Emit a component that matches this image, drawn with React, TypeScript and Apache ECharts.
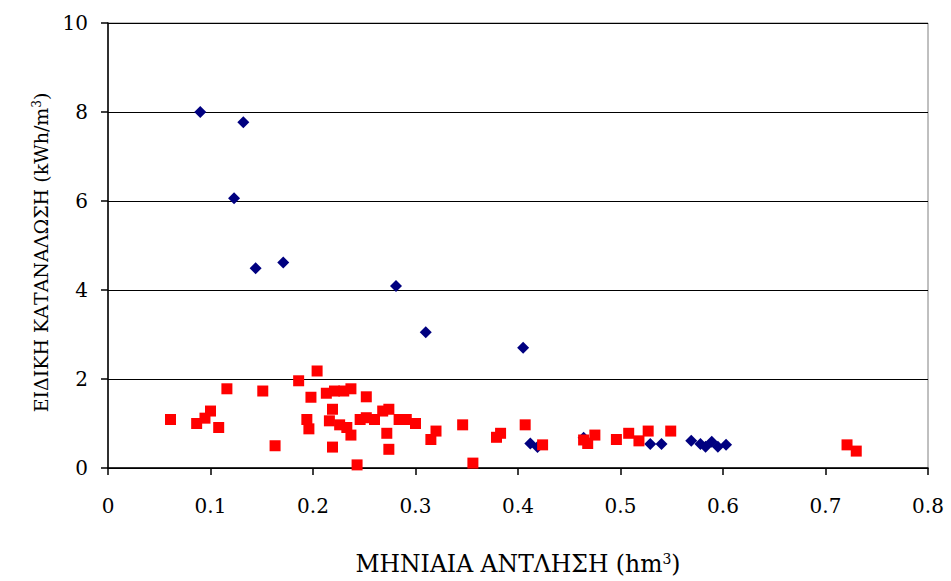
import React, { useEffect, useRef } from "react";
import * as echarts from "echarts";

const xTickLabels = ["0", "0.1", "0.2", "0.3", "0.4", "0.5", "0.6", "0.7", "0.8"];
const yTickLabels = ["0", "2", "4", "6", "8", "10"];

const blueX = [0.090, 0.132, 0.123, 0.144, 0.171, 0.281, 0.310, 0.405, 0.412, 0.419, 0.464, 0.529, 0.540, 0.569, 0.578, 0.583, 0.589, 0.595, 0.603];
const blueY = [8.0, 7.77, 6.06, 4.49, 4.62, 4.09, 3.05, 2.70, 0.55, 0.47, 0.68, 0.54, 0.54, 0.61, 0.54, 0.48, 0.59, 0.48, 0.52];

const redX = [0.061, 0.0865, 0.0946, 0.100, 0.108, 0.116, 0.151, 0.163, 0.186, 0.194, 0.196, 0.198, 0.204, 0.213, 0.216, 0.219, 0.219, 0.221, 0.226, 0.230, 0.233, 0.237, 0.237, 0.243, 0.246, 0.252, 0.252, 0.260, 0.268, 0.274, 0.272, 0.274, 0.284, 0.291, 0.300, 0.315, 0.320, 0.346, 0.356, 0.379, 0.383, 0.407, 0.424, 0.464, 0.468, 0.475, 0.496, 0.508, 0.518, 0.527, 0.549, 0.721, 0.730];
const redY = [1.09, 1.00, 1.12, 1.28, 0.91, 1.78, 1.73, 0.50, 1.96, 1.09, 0.88, 1.59, 2.18, 1.68, 1.06, 1.32, 0.47, 1.73, 0.97, 1.73, 0.91, 1.78, 0.74, 0.07, 1.09, 1.60, 1.13, 1.09, 1.28, 1.32, 0.78, 0.42, 1.09, 1.09, 1.00, 0.64, 0.83, 0.97, 0.11, 0.69, 0.78, 0.97, 0.52, 0.63, 0.55, 0.74, 0.64, 0.78, 0.61, 0.83, 0.83, 0.52, 0.38];

const xTitle = "ΜΗΝΙΑΙΑ ΑΝΤΛΗΣΗ (hm";
const yTitle = "ΕΙΔΙΚΗ ΚΑΤΑΝΑΛΩΣΗ (kWh/m";

const FONT = "DejaVu Serif";

export default function App() {
  const ref = useRef<HTMLDivElement>(null);
  useEffect(() => {
    if (!ref.current) return;
    const chart = echarts.init(ref.current, null, { renderer: "svg" });
    const richX = {
      a: { fontFamily: FONT, fontSize: 23.5, color: "#000" },
      s: { fontFamily: FONT, fontSize: 14, color: "#000", verticalAlign: "top" as const },
    };
    const richY = {
      a: { fontFamily: FONT, fontSize: 19, color: "#000" },
      s: { fontFamily: FONT, fontSize: 12, color: "#000", verticalAlign: "top" as const },
    };
    chart.setOption({
      animation: false,
      backgroundColor: "#fff",
      grid: {
        left: 108,
        right: 23,
        top: 23,
        bottom: 113,
        show: true,
        borderColor: "#808080",
        borderWidth: 1,
      },
      xAxis: {
        type: "value",
        min: 0,
        max: 0.8,
        interval: 0.1,
        name: "{a|" + xTitle + "}{s|3}{a|)}",
        nameLocation: "middle",
        nameGap: 84,
        nameTextStyle: { rich: richX },
        axisLine: { show: true, onZero: false, lineStyle: { color: "#000", width: 1.5 } },
        axisTick: { show: true, inside: false, length: 7, lineStyle: { color: "#000", width: 1.5 } },
        splitLine: { show: false },
        axisLabel: {
          margin: 28,
          fontFamily: FONT,
          fontSize: 20,
          color: "#000",
          formatter: (v: number) => xTickLabels[Math.round(v * 10)] ?? String(v),
        },
      },
      yAxis: {
        type: "value",
        min: 0,
        max: 10,
        interval: 2,
        name: "{a|" + yTitle + "}{s|3}{a|)}",
        nameLocation: "middle",
        nameGap: 58,
        nameTextStyle: { rich: richY, padding: [0, 14, 0, 0] },
        axisLine: { show: true, onZero: false, lineStyle: { color: "#000", width: 1.5 } },
        axisTick: { show: true, inside: false, length: 7, lineStyle: { color: "#000", width: 1.5 } },
        splitLine: { show: true, lineStyle: { color: "#000", width: 1 } },
        axisLabel: {
          margin: 20,
          fontFamily: FONT,
          fontSize: 20,
          color: "#000",
          formatter: (v: number) => yTickLabels[Math.round(v / 2)] ?? String(v),
        },
      },
      series: [
        {
          type: "scatter",
          symbol: "diamond",
          symbolSize: 12,
          itemStyle: { color: "#000080", opacity: 1 },
          data: blueX.map((x, i) => [x, blueY[i]]),
        },
        {
          type: "scatter",
          symbol: "rect",
          symbolSize: 11,
          itemStyle: { color: "#ff0000", opacity: 1 },
          data: redX.map((x, i) => [x, redY[i]]),
        },
      ],
    });
    return () => chart.dispose();
  }, []);
  return (
    <div
      ref={ref}
      style={{ position: "fixed", left: 0, top: 0, width: 951, height: 581 }}
    />
  );
}
